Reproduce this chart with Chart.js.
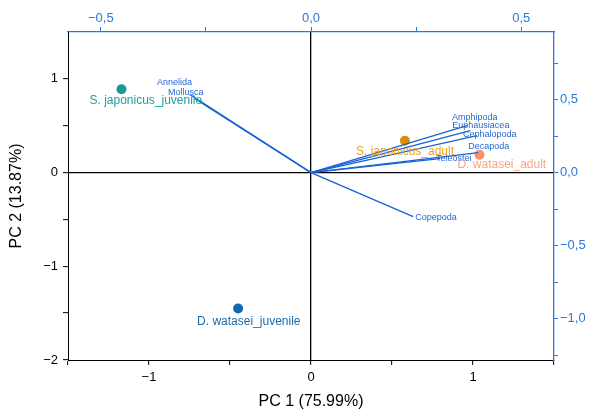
<!DOCTYPE html>
<html>
<head>
<meta charset="utf-8">
<script src="https://cdn.jsdelivr.net/npm/chart.js@4.4.1/dist/chart.umd.min.js"></script>
<style>
  html, body { margin: 0; padding: 0; background: #fff; }
  #wrap { width: 590px; height: 414px; }
</style>
</head>
<body>
<div id="wrap"><canvas id="biplot" width="590" height="414"></canvas></div>
<script>
// PCA scores of the four predator groups (PC 1 / PC 2)
const groups = ['S. japonicus_juvenile', 'D. watasei_juvenile', 'S. japonicus_adult', 'D. watasei_adult'];
const pc1Scores = [-1.17, -0.45, 0.58, 1.04];
const pc2Scores = [0.89, -1.45, 0.34, 0.19];

// Loadings of the prey categories
const prey = ['Annelida', 'Mollusca', 'Amphipoda', 'Euphausiacea', 'Cephalopoda', 'Decapoda', 'Teleostei', 'Copepoda'];
const pc1Loadings = [-0.288, -0.276, 0.371, 0.379, 0.395, 0.398, 0.307, 0.243];
const pc2Loadings = [0.534, 0.507, 0.322, 0.288, 0.253, 0.137, 0.096, -0.301];

// Tick positions
const pc1Ticks = [-1.5, -1, -0.5, 0, 0.5, 1, 1.5];
const pc2Ticks = [-2, -1.5, -1, -0.5, 0, 0.5, 1];
const loadXTicks = [-0.5, -0.25, 0, 0.25, 0.5];
const loadYTicks = [-1.25, -1, -0.75, -0.5, -0.25, 0, 0.25, 0.5, 0.75];

// Styling
const FONT = '"Liberation Sans", Arial, sans-serif';
const AXIS_BLUE = '#2a78dc';
const LOAD_COLOR = '#1763d6';
const LOAD_LABEL = '#2668d4';
const groupColors = ['#17989b', '#1068b0', '#d98e0b', '#f8936c'];
const groupLabelColors = ['#1fa0a3', '#1a6cb0', '#eba22c', '#fba487'];
// text offsets (px) from the marker / vector tip
const groupLabelOffset = [[-32, 12], [-41, 13], [-49, 11], [-22, 10]];
const preyLabelOffset = [[-33, -12], [-27, -6], [-15, -8], [-18, -5], [-14, -1], [-10, -6], [-4, 0], [2, 1]];

const minus = v => (v < 0 ? '\u2212' : '');
const fmtInt = v => Number.isInteger(v) ? minus(v) + Math.abs(v) : '';
const fmtLoad = v => (Math.abs(v * 2 - Math.round(v * 2)) < 1e-9) ? minus(v) + Math.abs(v).toFixed(1).replace('.', ',') : '';
const setTicks = arr => axis => { axis.ticks = arr.map(v => ({ value: v })); };

const loadingSets = prey.map((name, i) => ({
  label: name,
  data: [{ x: 0, y: 0 }, { x: pc1Loadings[i], y: pc2Loadings[i] }],
  xAxisID: 'x2', yAxisID: 'y2',
  showLine: true,
  borderColor: LOAD_COLOR,
  borderWidth: 1.3,
  pointRadius: 0,
  fill: false
}));

const scoreSet = {
  label: 'scores',
  data: groups.map((g, i) => ({ x: pc1Scores[i], y: pc2Scores[i] })),
  xAxisID: 'x', yAxisID: 'y',
  backgroundColor: groupColors,
  borderWidth: 0,
  pointRadius: 5
};

const labelPlugin = {
  id: 'biplotLabels',
  afterDatasetsDraw(chart) {
    const { ctx, scales } = chart;
    ctx.save();
    ctx.textAlign = 'left';
    ctx.textBaseline = 'middle';
    ctx.font = '9px ' + FONT;
    ctx.fillStyle = LOAD_LABEL;
    prey.forEach((name, i) => {
      const px = scales.x2.getPixelForValue(pc1Loadings[i]) + preyLabelOffset[i][0];
      const py = scales.y2.getPixelForValue(pc2Loadings[i]) + preyLabelOffset[i][1];
      ctx.fillText(name, px, py);
    });
    ctx.font = '12px ' + FONT;
    groups.forEach((g, i) => {
      ctx.fillStyle = groupLabelColors[i];
      const px = scales.x.getPixelForValue(pc1Scores[i]) + groupLabelOffset[i][0];
      const py = scales.y.getPixelForValue(pc2Scores[i]) + groupLabelOffset[i][1];
      ctx.fillText(g, px, py);
    });
    ctx.restore();
  }
};

new Chart(document.getElementById('biplot'), {
  type: 'scatter',
  data: { datasets: [...loadingSets, scoreSet] },
  options: {
    responsive: false,
    animation: false,
    layout: { padding: 0 },
    plugins: { legend: { display: false }, tooltip: { enabled: false } },
    scales: {
      x: {
        type: 'linear', position: 'bottom', min: -1.5, max: 1.5,
        afterBuildTicks: setTicks(pc1Ticks),
        afterFit: s => { s.height = 54; },
        grid: {
          drawOnChartArea: true,
          color: c => (c.tick && c.tick.value === 0 ? '#000' : 'rgba(0,0,0,0)'),
          lineWidth: 1.3,
          tickColor: '#000', tickLength: 5, tickWidth: 1
        },
        border: { color: '#000', width: 1 },
        ticks: { autoSkip: false, maxRotation: 0, padding: 5, color: '#000', font: { family: FONT, size: 13 }, callback: fmtInt },
        title: { display: true, text: 'PC 1 (75.99%)', color: '#000', font: { family: FONT, size: 16 }, padding: { top: 0, bottom: 3 } }
      },
      y: {
        type: 'linear', position: 'left', min: -2, max: 1.5,
        afterBuildTicks: setTicks(pc2Ticks),
        afterFit: s => { s.width = 68; },
        grid: {
          drawOnChartArea: true,
          color: c => (c.tick && c.tick.value === 0 ? '#000' : 'rgba(0,0,0,0)'),
          lineWidth: 1.3,
          tickColor: '#000', tickLength: 5, tickWidth: 1
        },
        border: { color: '#000', width: 1 },
        ticks: { autoSkip: false, padding: 5, color: '#000', font: { family: FONT, size: 13 }, callback: fmtInt },
        title: { display: true, text: 'PC 2 (13.87%)', color: '#000', font: { family: FONT, size: 16 }, padding: { top: 7, bottom: 0 } }
      },
      x2: {
        type: 'linear', position: 'top', min: -0.578, max: 0.578,
        afterBuildTicks: setTicks(loadXTicks),
        afterFit: s => { s.height = 32; },
        grid: { drawOnChartArea: false, tickColor: AXIS_BLUE, tickLength: 5, tickWidth: 1 },
        border: { color: AXIS_BLUE, width: 1.3 },
        ticks: { autoSkip: false, maxRotation: 0, padding: 1, color: AXIS_BLUE, font: { family: FONT, size: 13 }, callback: fmtLoad }
      },
      y2: {
        type: 'linear', position: 'right', min: -1.283, max: 0.963,
        afterBuildTicks: setTicks(loadYTicks),
        afterFit: s => { s.width = 36; },
        grid: { drawOnChartArea: false, tickColor: AXIS_BLUE, tickLength: 4, tickWidth: 1 },
        border: { color: AXIS_BLUE, width: 1.3 },
        ticks: { autoSkip: false, padding: 2, color: AXIS_BLUE, font: { family: FONT, size: 13 }, callback: fmtLoad }
      }
    }
  },
  plugins: [labelPlugin]
});
</script>
</body>
</html>
